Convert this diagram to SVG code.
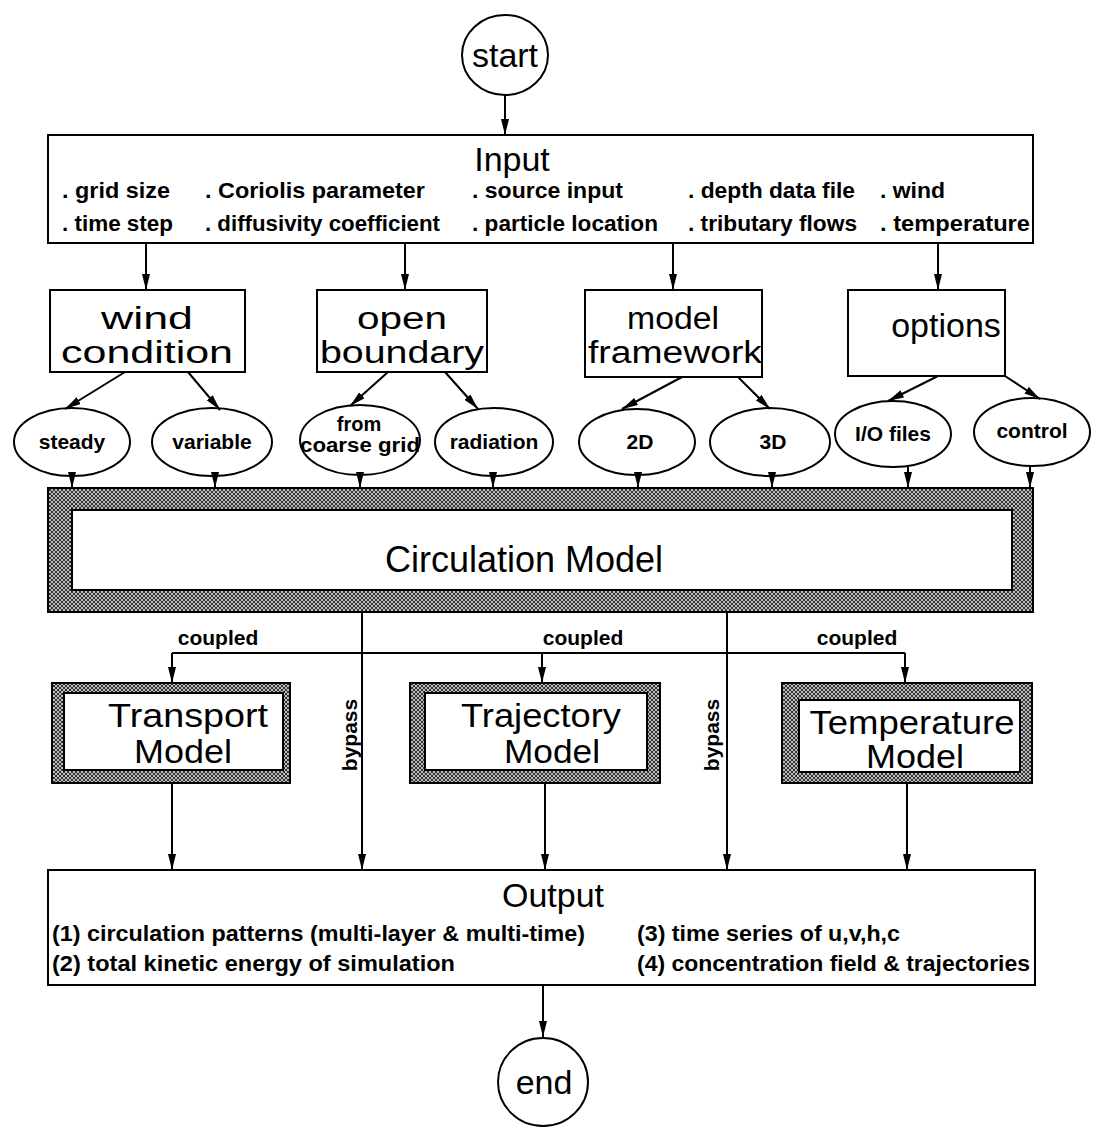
<svg xmlns="http://www.w3.org/2000/svg" width="1094" height="1129" viewBox="0 0 1094 1129">
<defs>
<marker id="ah" viewBox="0 0 16 8" refX="16" refY="4" markerWidth="16" markerHeight="8" markerUnits="userSpaceOnUse" orient="auto">
<path d="M0,0 L16,4 L0,8 z" fill="#000"/>
</marker>
<pattern id="hatch" width="4" height="4" patternUnits="userSpaceOnUse">
<rect width="4" height="4" fill="#bdbdbd"/>
<path d="M0,0 L4,4 M4,0 L0,4" stroke="#222" stroke-width="0.9"/>
</pattern>
</defs>
<style>
.box{fill:#fff;stroke:#000;stroke-width:2}
.ell{fill:#fff;stroke:#000;stroke-width:2}
.hat{fill:url(#hatch);stroke:#000;stroke-width:2}
.in{fill:#fff;stroke:#000;stroke-width:2}
.c line,.c path{stroke:#000;stroke-width:2;fill:none}
.a{marker-end:url(#ah)}
text{font-family:"Liberation Sans",Arial,sans-serif;fill:#000}
.t{font-size:34px;text-anchor:middle}
.b{font-size:31px;text-anchor:middle}
.s{font-size:22px;font-weight:bold}
.e{font-size:21px;font-weight:bold;text-anchor:middle}
.m{font-size:33px;text-anchor:middle}
.cm{font-size:36px;text-anchor:middle}
</style>
<rect width="1094" height="1129" fill="#fff"/>

<g id="start">
<ellipse class="ell" cx="505" cy="55" rx="43" ry="40"/>
<text class="t" x="505" y="67">start</text>
</g>

<g id="input">
<rect class="box" x="48" y="135" width="985" height="108"/>
<text class="t" x="512" y="171">Input</text>
<text class="s" x="62" y="198" textLength="108" lengthAdjust="spacingAndGlyphs">. grid size</text>
<text class="s" x="205" y="198" textLength="220" lengthAdjust="spacingAndGlyphs">. Coriolis parameter</text>
<text class="s" x="472" y="198" textLength="151" lengthAdjust="spacingAndGlyphs">. source input</text>
<text class="s" x="688" y="198" textLength="167" lengthAdjust="spacingAndGlyphs">. depth data file</text>
<text class="s" x="880" y="198" textLength="65" lengthAdjust="spacingAndGlyphs">. wind</text>
<text class="s" x="62" y="231" textLength="111" lengthAdjust="spacingAndGlyphs">. time step</text>
<text class="s" x="205" y="231" textLength="235" lengthAdjust="spacingAndGlyphs">. diffusivity coefficient</text>
<text class="s" x="472" y="231" textLength="186" lengthAdjust="spacingAndGlyphs">. particle location</text>
<text class="s" x="688" y="231" textLength="169" lengthAdjust="spacingAndGlyphs">. tributary flows</text>
<text class="s" x="880" y="231" textLength="150" lengthAdjust="spacingAndGlyphs">. temperature</text>
</g>

<g id="wind-condition">
<rect class="box" x="50" y="290" width="195" height="82"/>
<text class="b" x="147" y="329" textLength="92" lengthAdjust="spacingAndGlyphs">wind</text>
<text class="b" x="147" y="363" textLength="172" lengthAdjust="spacingAndGlyphs">condition</text>
</g>
<g id="open-boundary">
<rect class="box" x="317" y="290" width="170" height="82"/>
<text class="b" x="402" y="329" textLength="90" lengthAdjust="spacingAndGlyphs">open</text>
<text class="b" x="402" y="363" textLength="164" lengthAdjust="spacingAndGlyphs">boundary</text>
</g>
<g id="model-framework">
<rect class="box" x="585" y="290" width="177" height="87"/>
<text class="b" x="673" y="329" textLength="92" lengthAdjust="spacingAndGlyphs">model</text>
<text class="b" x="675" y="363" textLength="174" lengthAdjust="spacingAndGlyphs">framework</text>
</g>
<g id="options">
<rect class="box" x="848" y="290" width="157" height="86"/>
<text class="t" x="946" y="337">options</text>
</g>

<g id="steady"><ellipse class="ell" cx="72" cy="442" rx="58" ry="34"/><text class="e" x="72" y="449">steady</text></g>
<g id="variable"><ellipse class="ell" cx="212" cy="442" rx="60" ry="34"/><text class="e" x="212" y="449">variable</text></g>
<g id="coarse-grid"><ellipse class="ell" cx="360" cy="440" rx="60" ry="35"/><text class="e" x="359" y="431" style="font-size:20px">from</text><text class="e" x="360" y="452" style="font-size:20px" textLength="120" lengthAdjust="spacingAndGlyphs">coarse grid</text></g>
<g id="radiation"><ellipse class="ell" cx="494" cy="442" rx="59" ry="34"/><text class="e" x="494" y="449">radiation</text></g>
<g id="d2"><ellipse class="ell" cx="637" cy="442" rx="58" ry="33"/><text class="e" x="640" y="449">2D</text></g>
<g id="d3"><ellipse class="ell" cx="770" cy="442" rx="60" ry="34"/><text class="e" x="773" y="449">3D</text></g>
<g id="io-files"><ellipse class="ell" cx="893" cy="434" rx="58" ry="33"/><text class="e" x="893" y="441">I/O files</text></g>
<g id="control"><ellipse class="ell" cx="1032" cy="432" rx="58" ry="34"/><text class="e" x="1032" y="438">control</text></g>

<g id="circulation-model">
<rect class="hat" x="48" y="488" width="985" height="124"/>
<rect class="in" x="72" y="510" width="940" height="80"/>
<text class="cm" x="524" y="572" textLength="278" lengthAdjust="spacingAndGlyphs">Circulation Model</text>
</g>

<g id="transport-model">
<rect class="hat" x="52" y="683" width="238" height="100"/>
<rect class="in" x="64" y="693" width="219" height="77"/>
<text class="m" x="188" y="727" textLength="160" lengthAdjust="spacingAndGlyphs">Transport</text>
<text class="m" x="183" y="763" textLength="98" lengthAdjust="spacingAndGlyphs">Model</text>
</g>
<g id="trajectory-model">
<rect class="hat" x="410" y="683" width="250" height="100"/>
<rect class="in" x="425" y="693" width="222" height="77"/>
<text class="m" x="541" y="727" textLength="160" lengthAdjust="spacingAndGlyphs">Trajectory</text>
<text class="m" x="552" y="763" textLength="96" lengthAdjust="spacingAndGlyphs">Model</text>
</g>
<g id="temperature-model">
<rect class="hat" x="782" y="683" width="250" height="100"/>
<rect class="in" x="799" y="700" width="221" height="72"/>
<text class="m" x="912" y="734" textLength="205" lengthAdjust="spacingAndGlyphs">Temperature</text>
<text class="m" x="915" y="768" textLength="98" lengthAdjust="spacingAndGlyphs">Model</text>
</g>

<g id="output">
<rect class="box" x="48" y="870" width="987" height="115"/>
<text class="t" x="553" y="907">Output</text>
<text class="s" x="52" y="941" textLength="533" lengthAdjust="spacingAndGlyphs">(1) circulation patterns (multi-layer &amp; multi-time)</text>
<text class="s" x="52" y="971" textLength="403" lengthAdjust="spacingAndGlyphs">(2) total kinetic energy of simulation</text>
<text class="s" x="637" y="941" textLength="263" lengthAdjust="spacingAndGlyphs">(3) time series of u,v,h,c</text>
<text class="s" x="637" y="971" textLength="393" lengthAdjust="spacingAndGlyphs">(4) concentration field &amp; trajectories</text>
</g>

<g id="end">
<ellipse class="ell" cx="543" cy="1082" rx="45" ry="44"/>
<text class="t" x="544" y="1094">end</text>
</g>

<g id="connectors" class="c">
<line class="a" x1="505" y1="95" x2="505" y2="135"/>
<line class="a" x1="146" y1="243" x2="146" y2="290"/>
<line class="a" x1="405" y1="243" x2="405" y2="290"/>
<line class="a" x1="673" y1="243" x2="673" y2="290"/>
<line class="a" x1="938" y1="243" x2="938" y2="290"/>
<line class="a" x1="125" y1="372" x2="65" y2="409"/>
<line class="a" x1="188" y1="372" x2="220" y2="410"/>
<line class="a" x1="388" y1="372" x2="350" y2="406"/>
<line class="a" x1="445" y1="372" x2="478" y2="409"/>
<line class="a" x1="682" y1="377" x2="622" y2="409"/>
<line class="a" x1="738" y1="377" x2="770" y2="409"/>
<line class="a" x1="938" y1="376" x2="888" y2="401"/>
<line class="a" x1="1005" y1="376" x2="1040" y2="399"/>
<line class="a" x1="72" y1="476" x2="72" y2="488"/>
<line class="a" x1="215" y1="476" x2="215" y2="488"/>
<line class="a" x1="360" y1="475" x2="360" y2="488"/>
<line class="a" x1="493" y1="476" x2="493" y2="488"/>
<line class="a" x1="638" y1="475" x2="638" y2="488"/>
<line class="a" x1="772" y1="476" x2="772" y2="488"/>
<line class="a" x1="908" y1="467" x2="908" y2="488"/>
<line class="a" x1="1030" y1="466" x2="1030" y2="488"/>
<line class="a" x1="362" y1="612" x2="362" y2="870"/>
<line class="a" x1="727" y1="612" x2="727" y2="870"/>
<line x1="172" y1="653" x2="905" y2="653"/>
<line class="a" x1="172" y1="653" x2="172" y2="683"/>
<line class="a" x1="542" y1="653" x2="542" y2="683"/>
<line class="a" x1="905" y1="653" x2="905" y2="683"/>
<line class="a" x1="172" y1="783" x2="172" y2="870"/>
<line class="a" x1="545" y1="783" x2="545" y2="870"/>
<line class="a" x1="907" y1="783" x2="907" y2="870"/>
<line class="a" x1="543" y1="985" x2="543" y2="1037"/>
<text class="e" x="218" y="645">coupled</text>
<text class="e" x="583" y="645">coupled</text>
<text class="e" x="857" y="645">coupled</text>
<text class="e" transform="translate(357,735) rotate(-90)">bypass</text>
<text class="e" transform="translate(719,735) rotate(-90)">bypass</text>
</g>
</svg>
